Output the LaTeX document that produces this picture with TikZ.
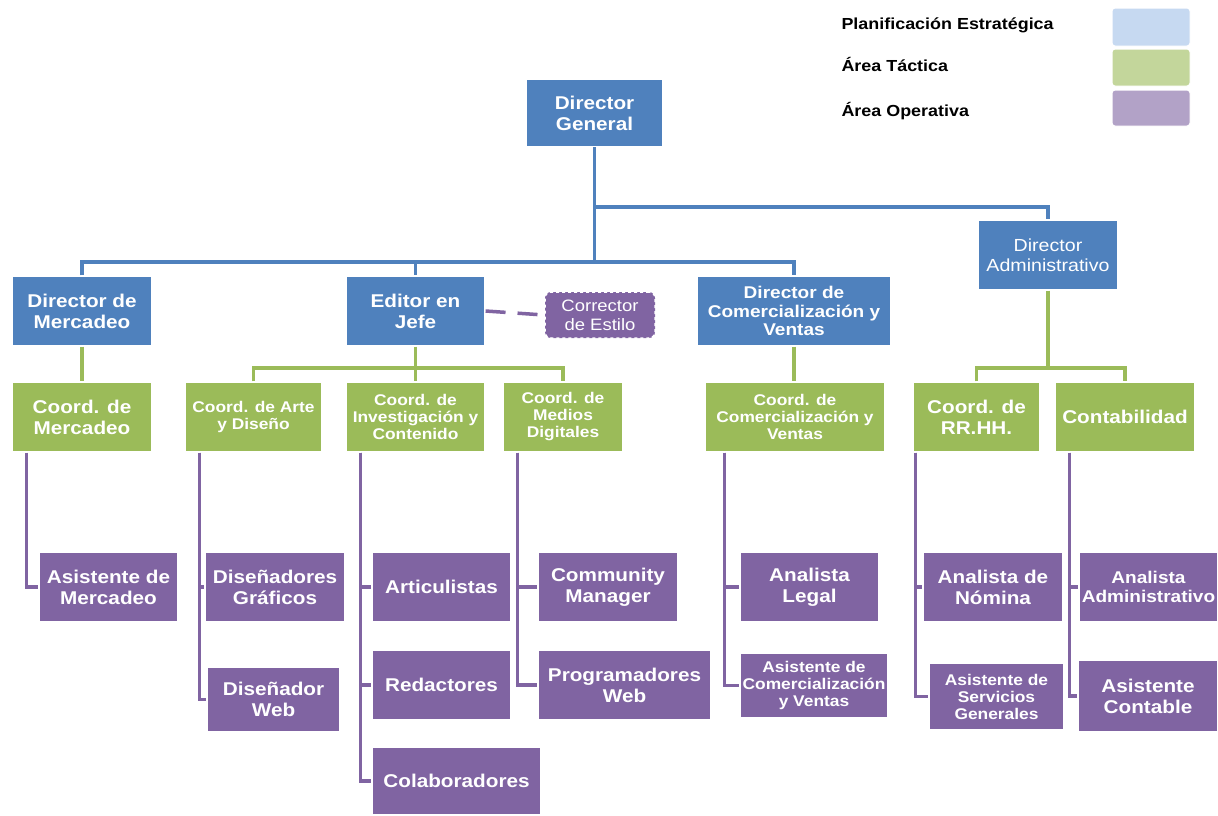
\documentclass[tikz,border=0pt]{standalone}
\usepackage{fontspec}
\setmainfont{Liberation Sans}[FakeStretch=1.12]
\usetikzlibrary{positioning}

\definecolor{stratblue}{HTML}{4F81BD}
\definecolor{tactgreen}{HTML}{9BBB59}
\definecolor{operpurple}{HTML}{8064A2}
\definecolor{keyblue}{HTML}{C6D9F1}
\definecolor{keygreen}{HTML}{C3D69B}
\definecolor{keypurple}{HTML}{B2A2C7}

\tikzset{
  unit/.style={draw=white, line width=1.2pt, text=white, align=center, inner sep=2pt},
  strat/.style={unit, fill=stratblue},
  tact/.style={unit, fill=tactgreen},
  oper/.style={unit, fill=operpurple},
  bigtext/.style={font=\bfseries\fontsize{18.5}{21}\selectfont},
  midtext/.style={font=\bfseries\fontsize{17}{18.5}\selectfont},
  smalltext/.style={font=\bfseries\fontsize{15.5}{17}\selectfont},
  thintext/.style={font=\fontsize{16.5}{19}\selectfont},
  keytext/.style={anchor=west, font=\bfseries\fontsize{16}{18}\selectfont},
  keybox/.style={draw=white, line width=1pt, rounded corners=3pt, minimum width=78pt},
  bluelink/.style={draw=stratblue, line width=3.5pt},
  greenlink/.style={draw=tactgreen, line width=3.5pt},
  purplelink/.style={draw=operpurple, line width=3.5pt}
}

\begin{document}
\begin{tikzpicture}[x=1pt, y=-1pt]
  \useasboundingbox (0,0) rectangle (1218,815);

  % legend
  \node[keytext] (kstrat) at (838,25) {Planificación Estratégica};
  \node[keytext] (ktact) at (838,64) {Área Táctica};
  \node[keytext] (koper) at (838,111) {Área Operativa};
  \node[keybox, fill=keyblue, minimum height=38pt] (bstrat) at (1151,27) {};
  \node[keybox, fill=keygreen, minimum height=37pt] (btact) at (1151,67.5) {};
  \node[keybox, fill=keypurple, minimum height=36pt] (boper) at (1151,108) {};

  % strategic level
  \node[strat, bigtext, line width=1.8pt, minimum width=136pt, minimum height=67pt] (dg) at (594.5,113) {Director\\General};
  \node[strat, bigtext, minimum width=140pt, minimum height=70pt] (dm) at (82,311) {Director de\\Mercadeo};
  \node[strat, bigtext, minimum width=139pt, minimum height=70pt] (ej) at (415.5,311) {Editor en\\Jefe};
  \node[strat, midtext, minimum width=194pt, minimum height=70pt] (dc) at (794,311) {Director de\\Comercialización y\\Ventas};
  \node[strat, thintext, font=\fontsize{17.5}{19.5}\selectfont, minimum width=140pt, minimum height=70pt] (da) at (1048,255) {Director\\Administrativo};
  \node[oper, thintext, dashed, line width=1.5pt, rounded corners=6pt, minimum width=110pt, minimum height=46pt] (ce) at (600,315) {Corrector\\de Estilo};

  \coordinate (j1) at (594.5,207);
  \coordinate (j2) at (594.5,262);
  \draw[bluelink] (dg.south) -- (j1) -| (da.north);
  \draw[bluelink] (j1) -- (j2);
  \draw[bluelink] (dm.north) |- (j2) -| (dc.north);
  \draw[bluelink] (j2 -| ej.north) -- (ej.north);
  \draw[purplelink, dash pattern=on 20pt off 12pt] (ej.east) -- (ce.west);

  % tactical level
  \node[tact, bigtext, minimum width=140pt, minimum height=70pt] (cm) at (82,417) {Coord. de\\Mercadeo};
  \node[tact, smalltext, minimum width=137pt, minimum height=70pt] (ca) at (253.5,417) {Coord. de Arte\\y Diseño};
  \node[tact, smalltext, minimum width=139pt, minimum height=70pt] (ci) at (415.5,417) {Coord. de\\Investigación y\\Contenido};
  \node[tact, smalltext, minimum width=120pt, minimum height=70pt] (cd) at (563,417) {Coord. de\\Medios\\Digitales};
  \node[tact, smalltext, minimum width=180pt, minimum height=70pt] (cc) at (795,417) {Coord. de\\Comercialización y\\Ventas};
  \node[tact, bigtext, minimum width=127pt, minimum height=70pt] (cr) at (976.5,417) {Coord. de\\RR.HH.};
  \node[tact, bigtext, minimum width=140pt, minimum height=70pt] (ct) at (1125,417) {Contabilidad};

  \coordinate (j3) at (415.5,368);
  \coordinate (j4) at (1048,368);
  \draw[greenlink] (dm.south) -- (cm.north);
  \draw[greenlink] (ej.south) -- (ci.north);
  \draw[greenlink] (ca.north) |- (j3) -| (cd.north);
  \draw[greenlink] (dc.south) -- (dc.south |- cc.north);
  \draw[greenlink] (da.south) -- (j4);
  \draw[greenlink] (cr.north) |- (j4) -| (ct.north);

  % operative level
  \node[oper, bigtext, minimum width=139pt, minimum height=70pt] (am) at (108.5,587) {Asistente de\\Mercadeo};
  \node[oper, bigtext, minimum width=140pt, minimum height=70pt] (dgf) at (275,587) {Diseñadores\\Gráficos};
  \node[oper, bigtext, minimum width=133pt, minimum height=65pt] (dw) at (273.5,699.5) {Diseñador\\Web};
  \node[oper, bigtext, minimum width=139pt, minimum height=70pt] (ar) at (441.5,587) {Articulistas};
  \node[oper, bigtext, minimum width=139pt, minimum height=70pt] (re) at (441.5,685) {Redactores};
  \node[oper, bigtext, minimum width=169pt, minimum height=68pt] (co) at (456.5,781) {Colaboradores};
  \node[oper, bigtext, minimum width=140pt, minimum height=70pt] (cmg) at (608,587) {Community\\Manager};
  \node[oper, bigtext, minimum width=173pt, minimum height=70pt] (pw) at (624.5,685) {Programadores\\Web};
  \node[oper, bigtext, minimum width=139pt, minimum height=70pt] (al) at (809.5,587) {Analista\\Legal};
  \node[oper, smalltext, minimum width=148pt, minimum height=65pt] (acv) at (814,685.5) {Asistente de\\Comercialización\\y Ventas};
  \node[oper, bigtext, minimum width=140pt, minimum height=70pt] (an) at (993,587) {Analista de\\Nómina};
  \node[oper, smalltext, minimum width=135pt, minimum height=67pt] (asg) at (996.5,696.5) {Asistente de\\Servicios\\Generales};
  \node[oper, bigtext, font=\bfseries\fontsize{17}{19}\selectfont, minimum width=139pt, minimum height=70pt] (aa) at (1148.5,587) {Analista\\Administrativo};
  \node[oper, bigtext, minimum width=140pt, minimum height=72pt] (ac) at (1148,696) {Asistente\\Contable};

  \coordinate (s1) at ([xshift=15pt]cm.south west);
  \coordinate (s2) at ([xshift=15pt]ca.south west);
  \coordinate (s3) at ([xshift=15pt]ci.south west);
  \coordinate (s4) at ([xshift=15pt]cd.south west);
  \coordinate (s5) at ([xshift=20pt]cc.south west);
  \coordinate (s6) at ([xshift=3pt]cr.south west);
  \coordinate (s7) at ([xshift=15pt]ct.south west);
  \draw[purplelink] (s1) |- (am.west);
  \draw[purplelink] (s2) |- (dgf.west);
  \draw[purplelink] (s2) |- (dw.west);
  \draw[purplelink] (s3) |- (ar.west);
  \draw[purplelink] (s3) |- (re.west);
  \draw[purplelink] (s3) |- (co.west);
  \draw[purplelink] (s4) |- (cmg.west);
  \draw[purplelink] (s4) |- (pw.west);
  \draw[purplelink] (s5) |- (al.west);
  \draw[purplelink] (s5) |- (acv.west);
  \draw[purplelink] (s6) |- (an.west);
  \draw[purplelink] (s6) |- (asg.west);
  \draw[purplelink] (s7) |- (aa.west);
  \draw[purplelink] (s7) |- (ac.west);
\end{tikzpicture}
\end{document}
